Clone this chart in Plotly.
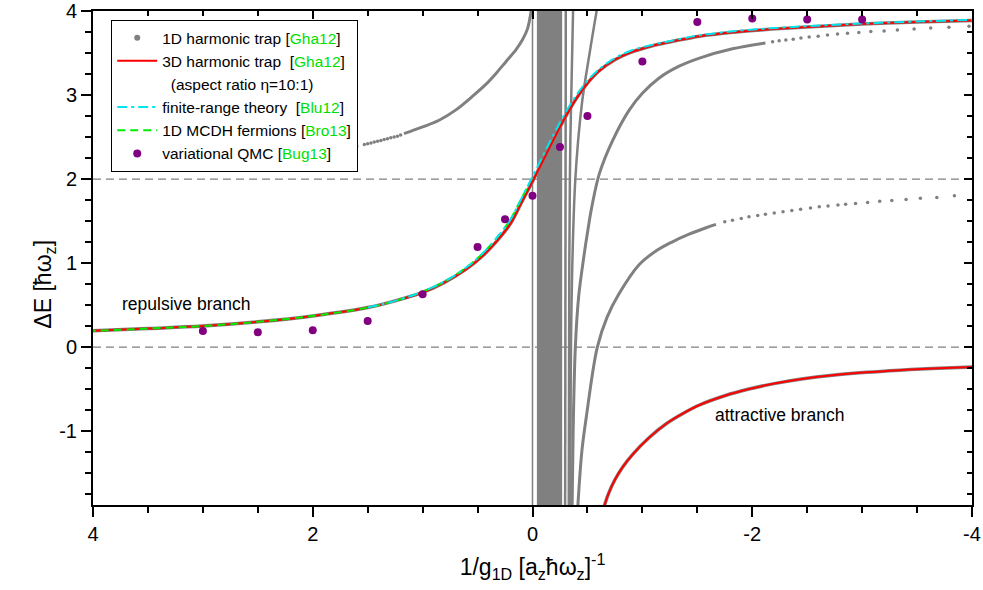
import plotly.graph_objects as go

# ---------------- data ----------------
# repulsive branch, 3D harmonic trap [Gha12]
rep_x = [4.05, 3.5, 3.0, 2.5, 2.0, 1.5, 1.25, 1.0, 0.8, 0.6, 0.45, 0.3, 0.2, 0.1, 0.0, -0.1, -0.2, -0.3, -0.4, -0.5, -0.6, -0.75, -0.9, -1.1, -1.3, -1.52, -1.8, -2.13, -2.5, -3.0, -3.5, -4.05]
rep_y = [0.19, 0.22, 0.25, 0.30, 0.37, 0.47, 0.55, 0.65, 0.77, 0.93, 1.09, 1.30, 1.47, 1.72, 1.97, 2.23, 2.49, 2.74, 2.96, 3.14, 3.28, 3.42, 3.51, 3.59, 3.645, 3.70, 3.745, 3.78, 3.81, 3.845, 3.87, 3.89]
# finite-range theory [Blu12]
frt_x = [1.5, 1.25, 1.0, 0.8, 0.6, 0.45, 0.3, 0.2, 0.1, 0.0, -0.1, -0.2, -0.3, -0.4, -0.5, -0.6, -0.75, -0.9, -1.1, -1.3, -1.52, -1.8, -2.13, -2.5, -3.0, -3.5, -4.05]
frt_y = [0.47, 0.55, 0.66, 0.78, 0.95, 1.12, 1.34, 1.52, 1.77, 2.03, 2.29, 2.55, 2.79, 3.00, 3.17, 3.30, 3.44, 3.53, 3.60, 3.655, 3.71, 3.755, 3.79, 3.82, 3.85, 3.875, 3.895]
# 1D MCDH fermions [Bro13]
mcdh_x = [4.05, 3.5, 3.0, 2.5, 2.0, 1.5, 1.25, 1.0, 0.8, 0.6, 0.45, 0.3, 0.2, 0.1, 0.05]
mcdh_y = [0.19, 0.22, 0.25, 0.30, 0.37, 0.47, 0.55, 0.66, 0.78, 0.95, 1.12, 1.34, 1.52, 1.77, 1.89]
# attractive branch, 3D harmonic trap [Gha12]
att_x = [-0.64, -0.69, -0.75, -0.82, -0.91, -1.06, -1.22, -1.37, -1.52, -1.75, -1.97, -2.2, -2.45, -2.73, -3.04, -3.34, -3.64, -4.05]
att_y = [-1.95, -1.75, -1.58, -1.43, -1.28, -1.08, -0.91, -0.79, -0.69, -0.58, -0.50, -0.435, -0.38, -0.335, -0.30, -0.275, -0.255, -0.235]
# variational QMC [Bug13]
qmc_x = [3.0, 2.5, 2.0, 1.5, 1.0, 0.5, 0.25, 0.0, -0.25, -0.5, -1.0, -1.5, -2.0, -2.5, -3.0]
qmc_y = [0.19, 0.175, 0.20, 0.31, 0.63, 1.19, 1.52, 1.80, 2.38, 2.75, 3.40, 3.87, 3.91, 3.90, 3.90]

# 1D harmonic trap [Gha12] - solid (dense) parts of the spectrum
u0_x = [1.17, 1.0, 0.85, 0.70, 0.55, 0.43, 0.33, 0.24, 0.15, 0.09, 0.045, 0.01]
u0_y = [2.54, 2.62, 2.70, 2.82, 2.98, 3.12, 3.26, 3.40, 3.54, 3.66, 3.79, 4.02]
u0d_x = [1.80, 1.70, 1.60, 1.53, 1.50, 1.47, 1.44, 1.41, 1.38, 1.35, 1.32, 1.29, 1.26, 1.23, 1.20]
u0d_y = [2.33, 2.36, 2.39, 2.41, 2.42, 2.43, 2.44, 2.45, 2.46, 2.47, 2.48, 2.49, 2.50, 2.51, 2.525]

c6_x = [-0.36, -0.37, -0.39, -0.42, -0.47, -0.50, -0.54, -0.61, -0.73, -0.88, -1.0, -1.15, -1.33, -1.52, -1.82, -2.12]
c6_y = [-1.95, -1.0, 0.0, 0.6, 1.10, 1.36, 1.67, 2.07, 2.46, 2.82, 3.02, 3.20, 3.34, 3.44, 3.55, 3.62]
c6d_x = [-2.185, -2.245, -2.306, -2.373, -2.443, -2.518, -2.60, -2.685, -2.776, -2.867, -2.97, -3.079, -3.20, -3.321, -3.473, -3.624, -3.79, -3.973]
c6d_y = [3.635, 3.645, 3.655, 3.665, 3.68, 3.69, 3.70, 3.715, 3.726, 3.735, 3.745, 3.755, 3.762, 3.774, 3.786, 3.798, 3.806, 3.818]

c5_x = [-0.41, -0.45, -0.49, -0.59, -0.68, -0.79, -0.97, -1.12, -1.27, -1.42, -1.58, -1.67]
c5_y = [-1.95, -1.23, -0.83, 0.0, 0.36, 0.64, 0.98, 1.14, 1.25, 1.34, 1.42, 1.46]
c5d_x = [-1.75, -1.82, -1.90, -1.97, -2.05, -2.12, -2.20, -2.28, -2.36, -2.44, -2.53, -2.61, -2.69, -2.78, -2.85, -2.94, -3.05, -3.16, -3.27, -3.40, -3.53, -3.68, -3.84]
c5d_y = [1.49, 1.51, 1.53, 1.55, 1.565, 1.58, 1.595, 1.61, 1.625, 1.64, 1.655, 1.67, 1.68, 1.69, 1.70, 1.71, 1.72, 1.735, 1.745, 1.755, 1.77, 1.78, 1.80]

# near-vertical levels next to the pole
v1_x = [-0.297, -0.303]
v1_y = [-1.95, 4.05]
v2_x = [-0.33, -0.335, -0.345, -0.37]
v2_y = [-1.95, 1.0, 2.5, 4.05]
v3_x = [-0.345, -0.355, -0.39, -0.45, -0.52, -0.59]
v3_y = [-1.95, 0.5, 2.0, 2.9, 3.5, 4.05]
pole_x = [0.0, 0.0]
pole_y = [-1.95, 4.05]
band_x = [-0.04, -0.27]      # dense band of levels
band_y = [-1.95, 4.05]

ref_levels = [0, 2]

x_ticks = [4, 2, 0, -2, -4]
x_ticktext = ["4", "2", "0", "-2", "-4"]
y_ticks = [-1, 0, 1, 2, 3, 4]
y_ticktext = ["-1", "0", "1", "2", "3", "4"]

GREY = "#808080"
GREEN = "#00e000"
FONT = "Arial, Liberation Sans, sans-serif"

fig = go.Figure()

# dense band
fig.add_trace(go.Scatter(x=[band_x[0], band_x[1], band_x[1], band_x[0], band_x[0]],
                         y=[band_y[0], band_y[0], band_y[1], band_y[1], band_y[0]],
                         fill="toself", fillcolor=GREY, mode="lines",
                         line=dict(color=GREY, width=0), showlegend=False, hoverinfo="skip"))
fig.add_trace(go.Scatter(x=pole_x, y=pole_y, mode="lines", line=dict(color=GREY, width=1.5),
                         showlegend=False, hoverinfo="skip"))
for lx, ly in [(v1_x, v1_y), (v2_x, v2_y), (v3_x, v3_y)]:
    fig.add_trace(go.Scatter(x=lx, y=ly, mode="lines", line=dict(color=GREY, width=2.5, shape="spline"),
                             showlegend=False, hoverinfo="skip"))
for lx, ly in [(u0_x, u0_y), (c6_x, c6_y), (c5_x, c5_y)]:
    fig.add_trace(go.Scatter(x=lx, y=ly, mode="lines", line=dict(color=GREY, width=3, shape="spline"),
                             showlegend=False, hoverinfo="skip"))
for lx, ly in [(u0d_x, u0d_y), (c6d_x, c6d_y), (c5d_x, c5d_y)]:
    fig.add_trace(go.Scatter(x=lx, y=ly, mode="markers", marker=dict(color=GREY, size=3.5),
                             showlegend=False, hoverinfo="skip"))
# grey 1D curves underneath the 3D branches
fig.add_trace(go.Scatter(x=rep_x, y=rep_y, mode="lines", line=dict(color=GREY, width=3.5, shape="spline"),
                         showlegend=False, hoverinfo="skip"))
fig.add_trace(go.Scatter(x=att_x, y=att_y, mode="lines", line=dict(color=GREY, width=3.5, shape="spline"),
                         showlegend=False, hoverinfo="skip"))

# legend entry for the 1D harmonic trap
fig.add_trace(go.Scatter(x=[None], y=[None], mode="markers", marker=dict(color=GREY, size=6),
                         name=f"1D harmonic trap [<span style='color:{GREEN}'>Gha12</span>]", legendrank=1))

fig.add_trace(go.Scatter(x=rep_x, y=rep_y, mode="lines", line=dict(color="red", width=2, shape="spline"),
                         name=f"3D harmonic trap  [<span style='color:{GREEN}'>Gha12</span>]", legendrank=2))
fig.add_trace(go.Scatter(x=att_x, y=att_y, mode="lines", line=dict(color="red", width=2, shape="spline"),
                         showlegend=False))
fig.add_trace(go.Scatter(x=[None], y=[None], mode="lines", line=dict(color="rgba(0,0,0,0)", width=1),
                         name="\u00a0\u00a0(aspect ratio \u03b7=10:1)", legendrank=3))
fig.add_trace(go.Scatter(x=mcdh_x, y=mcdh_y, mode="lines",
                         line=dict(color="#00ee00", width=2, dash="8px,5px", shape="spline"),
                         name=f"1D MCDH fermions [<span style='color:{GREEN}'>Bro13</span>]", legendrank=5))
fig.add_trace(go.Scatter(x=frt_x, y=frt_y, mode="lines",
                         line=dict(color="#00e5ee", width=2, dash="10px,4px,3px,4px", shape="spline"),
                         name=f"finite-range theory  [<span style='color:{GREEN}'>Blu12</span>]", legendrank=4))
fig.add_trace(go.Scatter(x=qmc_x, y=qmc_y, mode="markers", marker=dict(color="#800080", size=8),
                         name=f"variational QMC [<span style='color:{GREEN}'>Bug13</span>]", legendrank=6))

# dummy trace for the mirrored (inside) ticks on top/right
fig.add_trace(go.Scatter(x=[None], y=[None], xaxis="x2", yaxis="y2", showlegend=False))

for lvl in ref_levels:
    fig.add_shape(type="line", xref="paper", x0=0, x1=1, yref="y", y0=lvl, y1=lvl,
                  line=dict(color=GREY, width=1.2, dash="8px,5px"), layer="below")

fig.add_annotation(x=3.15, y=0.51, text="repulsive branch", showarrow=False,
                   font=dict(size=17.5, color="black", family=FONT))
fig.add_annotation(x=-2.25, y=-0.81, text="attractive branch", showarrow=False,
                   font=dict(size=17.5, color="black", family=FONT))
# y-axis title
fig.add_annotation(xref="paper", yref="paper", x=-0.074, y=0.447, textangle=-90, showarrow=False,
                   text="\u0394E [\u0127\u03c9<sub>z</sub>]", font=dict(size=23, color="black", family=FONT))

XR = [4, -4]
YR = [-1.88, 4]
fig.update_layout(
    width=983, height=590,
    margin=dict(l=93, r=11, t=11, b=85, autoexpand=False),
    paper_bgcolor="white", plot_bgcolor="white",
    font=dict(family=FONT, size=20, color="black"),
    showlegend=True,
    legend=dict(x=0.0205, y=0.982, xanchor="left", yanchor="top",
                bgcolor="white", bordercolor="black", borderwidth=1.2,
                font=dict(size=15.5, family=FONT, color="black"),
                itemwidth=40, tracegroupgap=0),
    xaxis=dict(range=XR, automargin=False, showgrid=False, zeroline=False, showline=True, linecolor="black",
               linewidth=2, mirror=True, ticks="outside", ticklen=10, tickwidth=2, tickcolor="black",
               tickvals=x_ticks, ticktext=x_ticktext, tickfont=dict(size=20),
               minor=dict(ticks="outside", ticklen=6, tickwidth=1.5, dtick=0.5, tick0=0, tickcolor="black"),
               title=dict(text="1/g<sub>1D</sub> [a<sub>z</sub>\u0127\u03c9<sub>z</sub>]<sup>-1</sup>",
                          font=dict(size=23))),
    yaxis=dict(range=YR, automargin=False, showgrid=False, zeroline=False, showline=True, linecolor="black",
               linewidth=2, mirror=True, ticks="outside", ticklen=10, tickwidth=2, tickcolor="black",
               tickvals=y_ticks, ticktext=y_ticktext, tickfont=dict(size=20),
               minor=dict(ticks="outside", ticklen=6, tickwidth=1.5, dtick=0.25, tick0=0, tickcolor="black")),
    xaxis2=dict(range=XR, automargin=False, overlaying="x", side="top", anchor="y2", showgrid=False,
                zeroline=False, showline=False, ticks="inside", ticklen=8, tickwidth=2, tickcolor="black",
                tickvals=x_ticks, showticklabels=False,
                minor=dict(ticks="inside", ticklen=5, tickwidth=1.5, dtick=0.5, tick0=0, tickcolor="black")),
    yaxis2=dict(range=YR, automargin=False, overlaying="y", side="right", anchor="x2", showgrid=False,
                zeroline=False, showline=False, ticks="inside", ticklen=8, tickwidth=2, tickcolor="black",
                tickvals=y_ticks, showticklabels=False,
                minor=dict(ticks="inside", ticklen=5, tickwidth=1.5, dtick=0.25, tick0=0, tickcolor="black")),
)

fig.write_html("out.html")
